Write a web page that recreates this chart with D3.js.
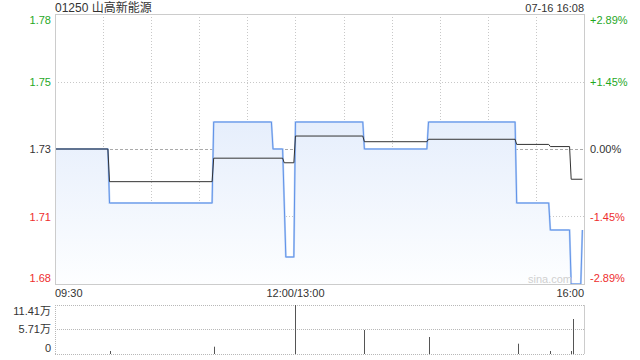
<!DOCTYPE html>
<html>
<head>
<meta charset="utf-8">
<script src="https://cdn.jsdelivr.net/npm/d3@7"></script>
<style>
  html, body { margin: 0; padding: 0; background: #fff; }
  svg { display: block; font-family: "Liberation Sans", Arial, "Noto Sans CJK SC", sans-serif; }
</style>
</head>
<body>
<svg id="chart" width="640" height="360"></svg>
<script>
// 数据
var title = "01250 山高新能源";
var stamp = "07-16 16:08";
var prevClose = 1.73;

var priceTimes = ["09:30","10:03","10:04","11:08","11:09","11:45","11:46","11:52","11:54","11:59","13:00","13:42","13:43","14:22","14:23","15:17","15:18","15:38","15:39","15:51","15:52","15:58","15:59"];
var prices     = [1.73,  1.73,  1.71,  1.71,  1.74,  1.74,  1.73,  1.73,  1.69,  1.69,  1.74,  1.74,  1.73,  1.73,  1.74,  1.74,  1.71,  1.71,  1.70,  1.70,  1.68,  1.68,  1.70];

var avgTimes  = ["09:30","10:03","10:04","11:08","11:09","11:52","11:53","11:59","13:00","13:42","13:43","14:22","14:23","15:17","15:18","15:38","15:39","15:51","15:52","15:59"];
var avgPrices = [1.73,  1.73,  1.7179,1.7179,1.7266,1.7266,1.7249,1.7249,1.7348,1.7348,1.7327,1.7327,1.7336,1.7336,1.7317,1.7317,1.7309,1.7309,1.7188,1.7188];

var volTimes = ["10:04","11:09","13:00","13:43","14:23","15:19","15:39","15:52","15:53"];
var volumes  = [7000,   17000,  114100, 55900,  39600,  24000,  7000,   7000,   81500];

var priceTicks  = [1.78, 1.755, 1.73, 1.705, 1.68];
var priceLabels = ["1.78","1.75","1.73","1.71","1.68"];
var pctLabels   = ["+2.89%","+1.45%","0.00%","-1.45%","-2.89%"];
var timeTicks   = ["09:30","10:00","10:30","11:00","11:30","13:00","13:30","14:00","14:30","15:00","15:30","16:00"];
var timeLabels  = ["09:30","12:00/13:00","16:00"];
var volTicks    = [114100, 57100, 0];
var volLabels   = ["11.41万","5.71万","0"];

// 时间 -> 分钟序号 (午休合并)
function idx(t){
	var p = t.split(":").map(Number), m = p[0]*60 + p[1];
	return m <= 720 ? m - 570 : m - 780 + 150;
}

var svg = d3.select("#chart");
var L = 55, R = 584, T = 14, B = 284;		// 主图
var VT = 305, VB = 354;						// 成交量

var x = d3.scaleLinear().domain([0, 330]).range([L, R]);
var y = d3.scaleLinear().domain([1.68, 1.78]).range([B, T]);
var yv = d3.scaleLinear().domain([0, 114100]).range([VB, VT]);

var green = "#1fa81f", red = "#ee2e2e", dark = "#333";
function tickColor(v){ return v > prevClose + 1e-9 ? green : (v < prevClose - 1e-9 ? red : dark); }

// 渐变
var defs = svg.append("defs");
var grad = defs.append("linearGradient").attr("id", "fillGrad")
	.attr("gradientUnits", "userSpaceOnUse")
	.attr("x1", 0).attr("y1", T).attr("x2", 0).attr("y2", B);
grad.append("stop").attr("offset", "0%").attr("stop-color", "#d7e4fa");
grad.append("stop").attr("offset", "100%").attr("stop-color", "#fdfeff");

// 标题
svg.append("text").attr("x", L).attr("y", 12).attr("font-size", 12).attr("fill", dark).text(title);
svg.append("text").attr("x", R).attr("y", 12).attr("font-size", 11).attr("fill", dark)
	.attr("text-anchor", "end").text(stamp);

// 网格
var grid = svg.append("g");
grid.selectAll("line.v").data(timeTicks.slice(1, -1)).enter().append("line")
	.attr("x1", function(d){ return Math.round(x(idx(d))) + 0.5; })
	.attr("x2", function(d){ return Math.round(x(idx(d))) + 0.5; })
	.attr("y1", T).attr("y2", B)
	.attr("stroke", "#c8c8c8").attr("stroke-dasharray", "1,2");
grid.selectAll("line.h").data(priceTicks.slice(1, -1)).enter().append("line")
	.attr("x1", L).attr("x2", R)
	.attr("y1", function(d){ return Math.round(y(d)) + 0.5; })
	.attr("y2", function(d){ return Math.round(y(d)) + 0.5; })
	.attr("stroke", function(d){ return d === prevClose ? "#aaa" : "#c8c8c8"; })
	.attr("stroke-dasharray", function(d){ return d === prevClose ? "3,2" : "1,2"; });

// 面积 + 价格线
var pts = priceTimes.map(function(t, i){ return [idx(t), prices[i]]; });
var area = d3.area().x(function(d){ return x(d[0]); }).y0(B).y1(function(d){ return y(d[1]); });
svg.append("path").datum(pts).attr("d", area).attr("fill", "url(#fillGrad)");

var line = d3.line().x(function(d){ return x(d[0]); }).y(function(d){ return y(d[1]); });
svg.append("path").datum(pts).attr("d", line)
	.attr("fill", "none").attr("stroke", "#bcd3f6").attr("stroke-width", 2);
svg.append("path").datum(pts).attr("d", line)
	.attr("fill", "none").attr("stroke", "#6193e8").attr("stroke-width", 1);

var apts = avgTimes.map(function(t, i){ return [idx(t), avgPrices[i]]; });
svg.append("path").datum(apts).attr("d", line)
	.attr("fill", "none").attr("stroke", "#333").attr("stroke-width", 1);

// 主图边框
svg.append("rect").attr("x", L + 0.5).attr("y", T + 0.5).attr("width", R - L).attr("height", B - T)
	.attr("fill", "none").attr("stroke", "#cccccc");

// 水印
svg.append("text").attr("x", 572).attr("y", 283).attr("font-size", 11).attr("fill", "#d0d0d0")
	.attr("text-anchor", "end").text("sina.com");

// 左右刻度
priceTicks.forEach(function(v, i){
	var yy = y(v) + 4;
	if (i === 0) yy += 6;
	if (i === priceTicks.length - 1) yy -= 6;
	svg.append("text").attr("x", 51).attr("y", yy).attr("font-size", 11)
		.attr("text-anchor", "end").attr("fill", tickColor(v)).text(priceLabels[i]);
	svg.append("text").attr("x", 590).attr("y", yy).attr("font-size", 11)
		.attr("fill", tickColor(v)).text(pctLabels[i]);
});

// 时间标签
svg.append("text").attr("x", L).attr("y", 297).attr("font-size", 11).attr("fill", dark).text(timeLabels[0]);
svg.append("text").attr("x", x(idx("13:00"))).attr("y", 297).attr("font-size", 11).attr("fill", dark)
	.attr("text-anchor", "middle").text(timeLabels[1]);
svg.append("text").attr("x", R).attr("y", 297).attr("font-size", 11).attr("fill", dark)
	.attr("text-anchor", "end").text(timeLabels[2]);

// 成交量
var vg = svg.append("g");
vg.selectAll("line.h").data(volTicks).enter().append("line")
	.attr("x1", L).attr("x2", R)
	.attr("y1", function(d){ return Math.round(yv(d)) + 0.5; })
	.attr("y2", function(d){ return Math.round(yv(d)) + 0.5; })
	.attr("stroke", "#b8b8b8").attr("stroke-dasharray", "1,1");
vg.append("line").attr("x1", L + 0.5).attr("x2", L + 0.5).attr("y1", VT).attr("y2", VB)
	.attr("stroke", "#b8b8b8").attr("stroke-dasharray", "1,1");
vg.append("line").attr("x1", R + 0.5).attr("x2", R + 0.5).attr("y1", VT).attr("y2", VB)
	.attr("stroke", "#cccccc");

vg.selectAll("line.bar").data(volumes).enter().append("line")
	.attr("x1", function(d, i){ return Math.round(x(idx(volTimes[i]))) + 0.5; })
	.attr("x2", function(d, i){ return Math.round(x(idx(volTimes[i]))) + 0.5; })
	.attr("y1", yv(0)).attr("y2", function(d){ return yv(d); })
	.attr("stroke", "#555").attr("stroke-width", 1);

volTicks.forEach(function(v, i){
	var yy = yv(v) + 4;
	if (i === 0) yy += 6;
	if (i === volTicks.length - 1) yy -= 6;
	svg.append("text").attr("x", 51).attr("y", yy).attr("font-size", 11)
		.attr("text-anchor", "end").attr("fill", dark).text(volLabels[i]);
});
</script>
</body>
</html>
